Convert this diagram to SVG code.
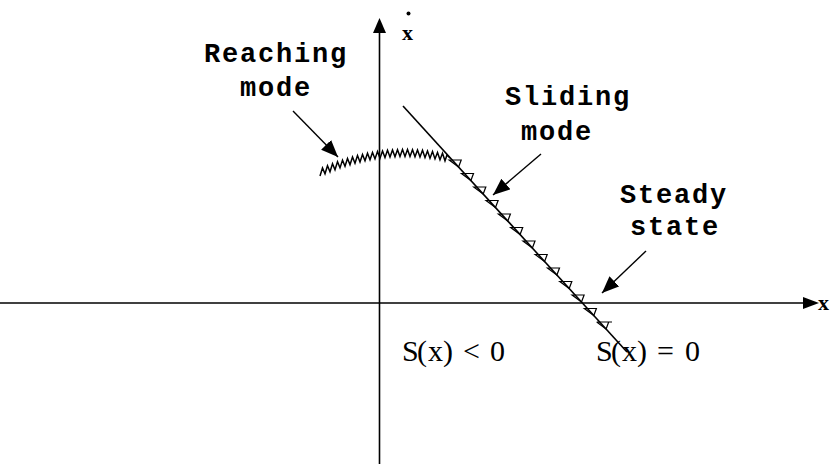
<svg xmlns="http://www.w3.org/2000/svg" xmlns:xlink="http://www.w3.org/1999/xlink" width="836" height="464" viewBox="0 0 836 464">
<style>
.ax{stroke:#000;stroke-width:1.6;fill:none}
.ln{stroke:#000;stroke-width:1.6;fill:none}
.arr{stroke:#000;stroke-width:1.4;fill:none;marker-end:url(#ah)}
.lab{font-family:"Liberation Mono","Courier New",monospace;font-weight:bold;font-size:27px;letter-spacing:1.8px;fill:#000}
.math{font-family:"Liberation Serif","Times New Roman",serif;font-size:30px;fill:#000}
.axl{font-family:"Liberation Serif","Times New Roman",serif;font-weight:bold;font-size:22px;fill:#000}
.tri{stroke:#000;stroke-width:1.2;fill:none;stroke-linejoin:miter}
</style>
<defs>
<marker id="ah" markerUnits="userSpaceOnUse" markerWidth="20" markerHeight="16" refX="17" refY="7" orient="auto"><path d="M0 0 L17 7 L0 14 Z" fill="#000"/></marker>
<path id="tri" class="tri" d="M-3 0 H9 L6.4 7 Z"/>
</defs>
<rect width="836" height="464" fill="#fff"/>
<g id="axes">
<line class="ax" x1="379.5" y1="464" x2="379.5" y2="30"/>
<path d="M379.5 18 L386 33 L373 33 Z" fill="#000"/>
<line class="ax" x1="0" y1="303" x2="806" y2="303"/>
<path d="M819 303 L803 297 L803 309 Z" fill="#000"/>
<text class="axl" x="818" y="310">x</text>
<text class="axl" x="402" y="40">x</text>
<circle cx="408.5" cy="13.5" r="2" fill="#000"/>
</g>
<g id="sliding-surface">
<line class="ln" x1="403" y1="106" x2="627" y2="352"/>
<g id="triangles">
<use xlink:href="#tri" x="452.2" y="160"/>
<use xlink:href="#tri" x="464.5" y="173.5"/>
<use xlink:href="#tri" x="476.8" y="187"/>
<use xlink:href="#tri" x="489.1" y="200.5"/>
<use xlink:href="#tri" x="501.4" y="214"/>
<use xlink:href="#tri" x="513.7" y="227.5"/>
<use xlink:href="#tri" x="526" y="241"/>
<use xlink:href="#tri" x="538.2" y="254.5"/>
<use xlink:href="#tri" x="550.5" y="268"/>
<use xlink:href="#tri" x="562.8" y="281.5"/>
<use xlink:href="#tri" x="575.1" y="295"/>
<use xlink:href="#tri" x="587.4" y="308.5"/>
<path class="tri" d="M596.7 322 H612 M608.7 322 L606.1 329 L596.7 322"/>
</g>
</g>
<g id="reaching-trajectory">
<polyline class="ln" style="stroke-width:1.5" points="320,176 322.5,167.9 325,173.8 327.5,165.7 330,171.7 332.5,163.7 335,169.7 337.5,161.8 340,167.9 342.5,160.1 345,166.2 347.5,158.4 350,164.7 352.5,156.9 355,163.3 357.5,155.6 360,162 362.5,154.4 365,160.8 367.5,153.3 370,159.8 372.5,152.4 375,158.9 377.5,151.5 380,158.2 382.5,150.9 385,157.6 387.5,150.3 390,157.1 392.5,149.9 395,156.8 397.5,149.7 400,156.6 402.5,149.5 405,156.5 407.5,149.5 410,156.6 412.5,149.7 415,156.8 417.5,149.9 420,157.1 422.5,150.3 425,157.6 427.5,150.9 430,158.2 432.5,151.5 435,158.9 437.5,152.4 440,159.8 442.5,153.3 445,160.8 447,155 450,158"/>
</g>
<g id="connectors">
<line class="arr" x1="293" y1="111" x2="338" y2="157"/>
<line class="arr" x1="541" y1="154" x2="493" y2="195"/>
<line class="arr" x1="646" y1="251" x2="602" y2="293"/>
</g>
<g id="label-reaching">
<text class="lab" x="204" y="62">Reaching</text>
<text class="lab" x="240" y="96">mode</text>
</g>
<g id="label-sliding">
<text class="lab" x="505" y="105">Sliding</text>
<text class="lab" x="521" y="140">mode</text>
</g>
<g id="label-steady">
<text class="lab" x="620" y="203">Steady</text>
<text class="lab" x="630" y="235">state</text>
</g>
<g id="label-s-neg">
<text class="math" y="361"><tspan x="402 417 428 443">S(x)</tspan><tspan x="463">&lt;</tspan><tspan x="490">0</tspan></text>
</g>
<g id="label-s-zero">
<text class="math" y="361"><tspan x="596 611 622 637">S(x)</tspan><tspan x="657">=</tspan><tspan x="685">0</tspan></text>
</g>
</svg>
